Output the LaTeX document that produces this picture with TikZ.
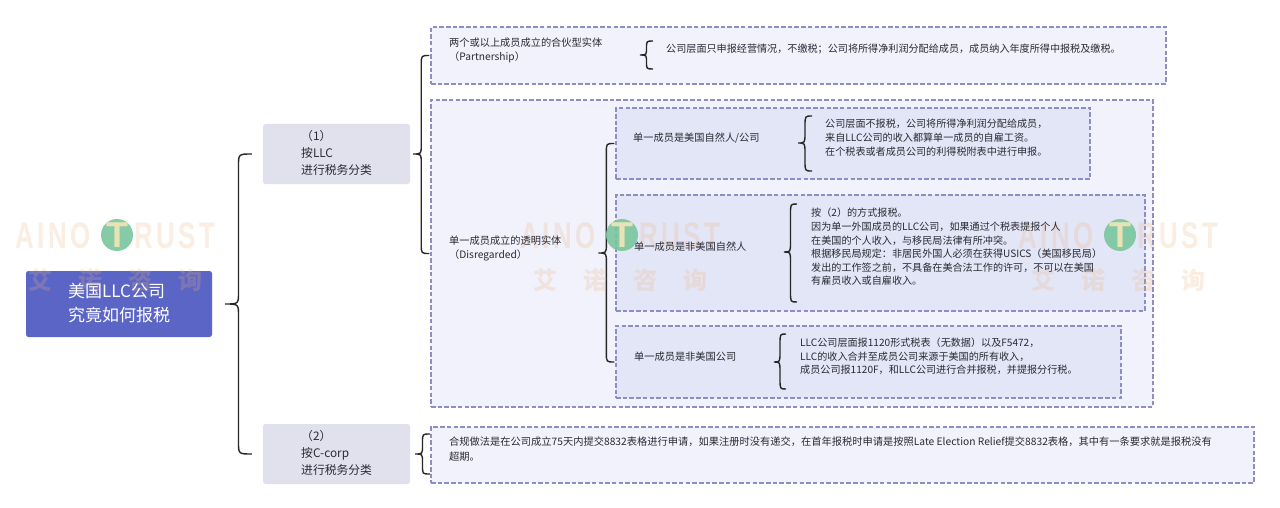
\documentclass[tikz,border=0pt]{standalone}
\usepackage{fontspec}
\setmainfont{Noto Sans CJK SC}
\newfontfamily\markfont[LetterSpace=10,FakeStretch=.7]{Liberation Sans}
\newfontfamily\stemfont{Liberation Sans}
\usetikzlibrary{calc}

\definecolor{rootblue}{HTML}{5A65C6}
\definecolor{branchgrey}{HTML}{E0E1ED}
\definecolor{outerfill}{HTML}{F1F2FC}
\definecolor{innerfill}{HTML}{E3E6F6}
\definecolor{dashblue}{HTML}{8E8EC4}
\definecolor{inkgrey}{HTML}{2A2A33}
\definecolor{markorange}{HTML}{EDB27E}
\definecolor{markgreen}{HTML}{79C69E}
\definecolor{markstem}{HTML}{E9E2B5}

\tikzset{
  rootbox/.style={fill=rootblue, rounded corners=2.5pt, inner sep=0pt},
  branchbox/.style={fill=branchgrey, rounded corners=2.5pt, inner sep=0pt},
  outerbox/.style={draw=dashblue, fill=outerfill, line width=1.3pt, dash pattern=on 4.5pt off 2.2pt, inner sep=0pt},
  innerbox/.style={draw=dashblue, fill=innerfill, line width=1.3pt, dash pattern=on 4.5pt off 2.2pt, inner sep=0pt},
  bracestyle/.style={draw=black!85, line width=1.4pt},
  textlabel/.style={anchor=west, inner sep=0pt, align=left, text=inkgrey, font=\fontsize{10.1}{14}\selectfont},
  marktext/.style={anchor=center, inner sep=0pt, text=markorange, opacity=.23}
}

\newcommand{\bracelink}[4][12pt]{%
  \draw[bracestyle] let \p1=(#2), \p2=(#3), \p3=(#4), \n1={(\x1+\x2)/2} in
    (\p2) .. controls (\n1,\y2) .. (\n1,\y2-#1) -- (\n1,\y1+#1)
    .. controls (\n1,\y1) .. (\x1,\y1) .. controls (\n1,\y1) .. (\n1,\y1-#1)
    -- (\n1,\y3+#1) .. controls (\n1,\y3) .. (\p3);
}

\newcommand{\watermark}[1]{%
  \begin{scope}[xshift=#1pt]
    \node[marktext, anchor=west, font=\markfont\bfseries\fontsize{37}{37}\selectfont] (aino#1) at (15,236) {AINO};
    \node[marktext, anchor=west, font=\markfont\bfseries\fontsize{37}{37}\selectfont] (rust#1) at (134,236) {RUST};
    \node[circle, fill=markgreen, opacity=.9, minimum size=32pt, inner sep=0pt] (disc#1) at (117,235) {};
    \node[text=markstem, inner sep=0pt, font=\stemfont\bfseries\fontsize{36}{36}\selectfont] (stem#1) at (disc#1) {T};
    \node[marktext, font=\bfseries\fontsize{24}{24}\selectfont] (ai#1) at (40,280) {艾};
    \node[marktext, font=\bfseries\fontsize{24}{24}\selectfont] (nuo#1) at (90,280) {诺};
    \node[marktext, font=\bfseries\fontsize{24}{24}\selectfont] (zi#1) at (140,280) {咨};
    \node[marktext, font=\bfseries\fontsize{24}{24}\selectfont] (xun#1) at (190,280) {询};
  \end{scope}
}

\begin{document}
\begin{tikzpicture}[x=1pt, y=-1pt]
  \useasboundingbox[fill=white] (0,0) rectangle (1280,508);

  \node[rootbox, minimum width=186pt, minimum height=66pt] (root) at (119,304) {};
  \node[branchbox, minimum width=147pt, minimum height=60pt] (llcbox) at (336.5,154) {};
  \node[branchbox, minimum width=147pt, minimum height=60pt] (ccorpbox) at (336.5,454) {};

  \node[outerbox, minimum width=735pt, minimum height=57pt] (partbox) at (798.5,55.5) {};
  \node[outerbox, minimum width=722pt, minimum height=307pt] (disbox) at (792,253.5) {};
  \node[outerbox, minimum width=823pt, minimum height=56pt] (electbox) at (842.5,455) {};

  \node[innerbox, minimum width=474pt, minimum height=71pt] (usbox) at (853,143.5) {};
  \node[innerbox, minimum width=529pt, minimum height=116pt] (alienbox) at (880.5,253) {};
  \node[innerbox, minimum width=505pt, minimum height=72pt] (corpbox) at (868.5,362) {};

  \bracelink{[xshift=13pt]root.east}{[xshift=-11pt]llcbox.west}{[xshift=-11pt]ccorpbox.west}
  \bracelink[9pt]{[xshift=3pt]llcbox.east}{[xshift=-1pt]partbox.west}{[xshift=-1pt]disbox.west}
  \bracelink[9pt]{[xshift=-17pt]alienbox.west}{[xshift=-1pt]usbox.west}{[xshift=-1pt]corpbox.west}

  \coordinate (parttip) at (640,55);
  \coordinate (parttop) at (653,41);
  \coordinate (partend) at (653,69);
  \bracelink[7pt]{parttip}{parttop}{partend}
  \coordinate (ustip) at (798,143);
  \coordinate (ustop) at (812,116);
  \coordinate (usend) at (812,171);
  \bracelink[10pt]{ustip}{ustop}{usend}
  \coordinate (alientip) at (784,252);
  \coordinate (alientop) at (797,204);
  \coordinate (alienend) at (797,302);
  \bracelink[10pt]{alientip}{alientop}{alienend}
  \coordinate (corptip) at (774,362);
  \coordinate (corptop) at (786,334);
  \coordinate (corpend) at (786,389);
  \bracelink[10pt]{corptip}{corptop}{corpend}
  \coordinate (electtip) at (415,454);
  \coordinate (electtop) at (430,434);
  \coordinate (electend) at (430,474);
  \bracelink[8pt]{electtip}{electtop}{electend}

  \watermark{0}
  \watermark{505}
  \watermark{1003}

  \node[textlabel, text=white, font=\fontsize{17}{24}\selectfont] (roottext) at (68,303) {美国LLC公司\\究竟如何报税};
  \node[textlabel, font=\fontsize{11.8}{17}\selectfont] (llctext) at (301,153) {（1）\\按LLC\\进行税务分类};
  \node[textlabel, font=\fontsize{11.8}{17}\selectfont] (ccorptext) at (301,453) {（2）\\按C-corp\\进行税务分类};

  \node[textlabel, font=\fontsize{10.2}{14}\selectfont] (parttext) at (449,50) {两个或以上成员成立的合伙型实体\\（Partnership）};
  \node[textlabel] (partnote) at (666,49) {公司层面只申报经营情况，不缴税；公司将所得净利润分配给成员，成员纳入年度所得中报税及缴税。};

  \node[textlabel, font=\fontsize{10.2}{14}\selectfont] (distext) at (449,248) {单一成员成立的透明实体\\（Disregarded）};
  \node[textlabel, font=\fontsize{10.2}{14}\selectfont] (ustext) at (633,138) {单一成员是美国自然人/公司};
  \node[textlabel, font=\fontsize{10.2}{14}\selectfont] (alientext) at (634,247) {单一成员是非美国自然人};
  \node[textlabel, font=\fontsize{10.2}{14}\selectfont] (corptext) at (634,357) {单一成员是非美国公司};

  \node[textlabel] (usnote) at (825,138) {公司层面不报税，公司将所得净利润分配给成员，\\来自LLC公司的收入都算单一成员的自雇工资。\\在个税表或者成员公司的利得税附表中进行申报。};
  \node[textlabel, font=\fontsize{10.1}{13.6}\selectfont] (aliennote) at (811,247) {按（2）的方式报税。\\因为单一外国成员的LLC公司，如果通过个税表提报个人\\在美国的个人收入，与移民局法律有所冲突。\\根据移民局规定：非居民外国人必须在获得USICS（美国移民局）\\发出的工作签之前，不具备在美合法工作的许可，不可以在美国\\有雇员收入或自雇收入。};
  \node[textlabel, font=\fontsize{10.1}{13.6}\selectfont] (corpnote) at (800,356.5) {LLC公司层面报1120形式税表（无数据）以及F5472，\\LLC的收入合并至成员公司来源于美国的所有收入，\\成员公司报1120F，和LLC公司进行合并报税，并提报分行税。};
  \node[textlabel, font=\fontsize{10.25}{15}\selectfont] (electnote) at (449,449) {合规做法是在公司成立75天内提交8832表格进行申请，如果注册时没有递交，在首年报税时申请是按照Late Election Relief提交8832表格，其中有一条要求就是报税没有\\超期。};
\end{tikzpicture}
\end{document}
